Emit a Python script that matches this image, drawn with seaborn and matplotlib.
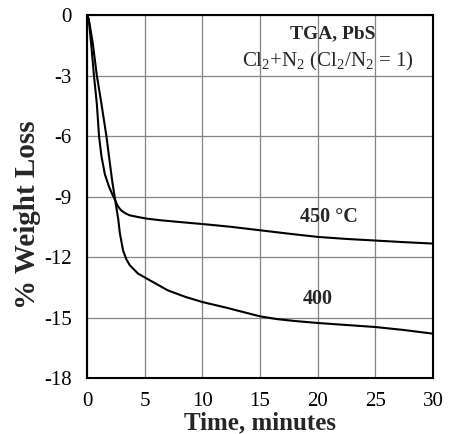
import matplotlib
matplotlib.use("Agg")
import matplotlib.pyplot as plt
import seaborn as sns
import pandas as pd

# Data
t450 = [0, 0.15, 0.4, 0.6, 0.85, 1.04, 1.25, 1.55, 1.9, 2.2, 2.45, 2.7, 2.95, 3.3, 3.7, 4.3, 5.15, 6.3, 8, 10, 12.5, 15, 17.5, 20, 22.5, 25, 27.5, 30]
w450 = [0, -0.2, -1.7, -3.0, -4.4, -6.0, -7.0, -7.9, -8.5, -8.9, -9.2, -9.5, -9.68, -9.82, -9.93, -10.0, -10.09, -10.17, -10.26, -10.36, -10.5, -10.67, -10.84, -11.0, -11.1, -11.18, -11.26, -11.33]
t400 = [0, 0.15, 0.5, 0.85, 1.25, 1.68, 1.97, 2.2, 2.45, 2.7, 2.85, 3.12, 3.4, 3.7, 4.42, 5.44, 7, 8.5, 10, 12, 15, 16.5, 18, 20, 22.5, 25, 27.5, 30]
w400 = [0, -0.2, -1.4, -3.0, -4.4, -6.0, -7.3, -8.3, -9.2, -10.1, -10.83, -11.66, -12.1, -12.4, -12.82, -13.15, -13.65, -13.97, -14.23, -14.5, -14.94, -15.08, -15.17, -15.27, -15.37, -15.47, -15.62, -15.8]

xticks = [0, 5, 10, 15, 20, 25, 30]
yticks = [0, -3, -6, -9, -12, -15, -18]

df = pd.concat([
    pd.DataFrame({"Time": t450, "Weight": w450, "T": "450"}),
    pd.DataFrame({"Time": t400, "Weight": w400, "T": "400"}),
])

sns.set_style("white")
plt.rcParams["font.family"] = ["Liberation Serif", "DejaVu Serif"]
plt.rcParams["mathtext.fontset"] = "custom"
plt.rcParams["mathtext.rm"] = "Liberation Serif"
plt.rcParams["mathtext.it"] = "Liberation Serif:italic"
plt.rcParams["mathtext.bf"] = "Liberation Serif:bold"

fig = plt.figure(figsize=(4.51, 4.34), dpi=100)
ax = fig.add_axes([0.193, 0.129, 0.767, 0.836])

sns.lineplot(data=df, x="Time", y="Weight", units="T", estimator=None,
             color="black", lw=1.5, ax=ax, legend=False, sort=False)

ax.set_xlim(0, 30)
ax.set_ylim(-18, 0)
ax.set_xticks(xticks)
ax.set_yticks(yticks)
ax.set_xticklabels([str(v) for v in xticks])
ax.set_yticklabels([str(v) for v in yticks])
ax.tick_params(axis="x", labelsize=15, direction="in", length=0, pad=10, colors="black")
ax.tick_params(axis="y", labelsize=15, direction="in", length=0, pad=11, colors="black")
ax.grid(True, color="#858585", lw=0.9)
for s in ax.spines.values():
    s.set_color("black")
    s.set_linewidth(1.5)

ax.set_xlabel("Time, minutes", fontsize=18, fontweight="bold", labelpad=0)
ax.set_ylabel("% Weight Loss", fontsize=21, fontweight="bold")
ax.yaxis.set_label_coords(-0.133, 0.45)

ax.text(21.3, -0.9, "TGA, PbS", fontsize=14, fontweight="bold", ha="center", va="center")
ax.text(20.9, -2.3, r"Cl$_2$+N$_2$ (Cl$_2$/N$_2$ = 1)", fontsize=15, ha="center", va="center")
ax.text(21.0, -10.0, "450 °C", fontsize=14.5, fontweight="bold", ha="center", va="center")
ax.text(20.0, -14.1, "400", fontsize=14.5, fontweight="bold", ha="center", va="center")

fig.savefig("out.png", dpi=100)
